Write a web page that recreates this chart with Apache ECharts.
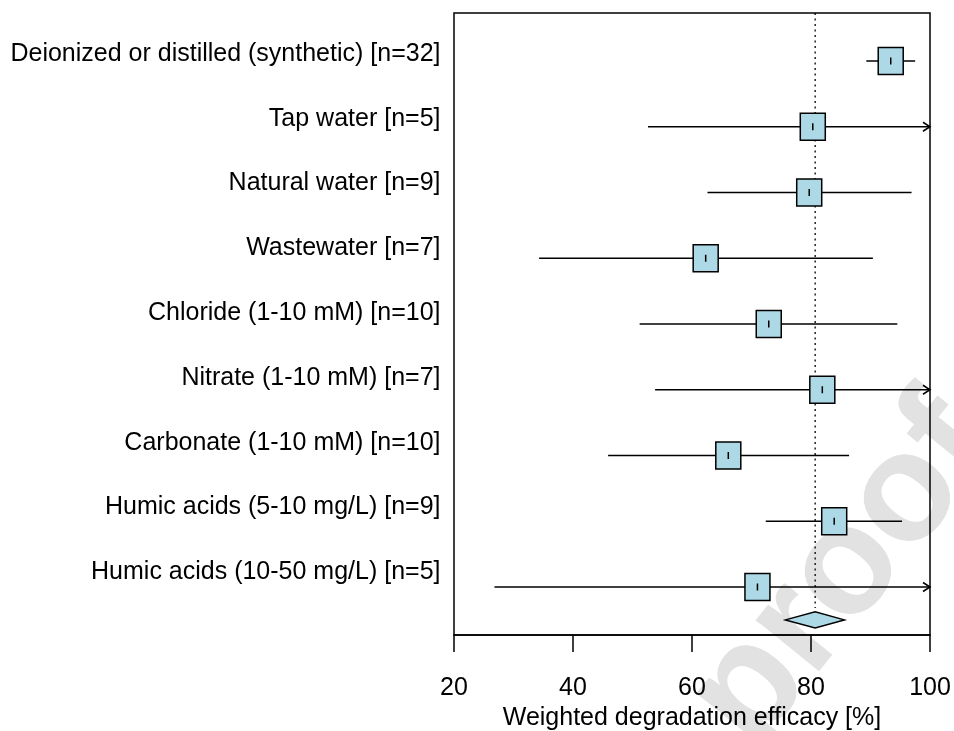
<!DOCTYPE html>
<html>
<head>
<meta charset="utf-8">
<title>Weighted degradation efficacy by water matrix</title>
<script src="https://cdn.jsdelivr.net/npm/echarts@6/dist/echarts.min.js"></script>
<style>
  html, body { margin: 0; padding: 0; background: #fff; }
  #chart { width: 954px; height: 731px; }
</style>
</head>
<body>
<div id="chart"></div>
<script>
// Water matrices, listed top to bottom
const categories = [
  'Deionized or distilled (synthetic) [n=32]',
  'Tap water [n=5]',
  'Natural water [n=9]',
  'Wastewater [n=7]',
  'Chloride (1-10 mM) [n=10]',
  'Nitrate (1-10 mM) [n=7]',
  'Carbonate (1-10 mM) [n=10]',
  'Humic acids (5-10 mg/L) [n=9]',
  'Humic acids (10-50 mg/L) [n=5]'
];
// Weighted mean efficacy (%) and its confidence bounds per matrix
const estimate = [93.4, 80.3, 79.7, 62.3, 72.9, 81.9, 66.1, 83.9, 71.0];
const lower    = [89.3, 52.6, 62.6, 34.3, 51.2, 53.8, 45.9, 72.4, 26.8];
const upper    = [97.5, 108.0, 96.9, 90.4, 94.5, 110.0, 86.4, 95.3, 115.0];
// Pooled estimate: [mean, lower, upper]
const pooled = [80.7, 75.7, 85.6];
// Axis settings
const xMin = 20, xMax = 100, xStep = 20;

const FONT = '"Liberation Sans", Arial, Helvetica, sans-serif';
const BOX_FILL = '#add8e6';

const n = categories.length;
// Row positions: first study at the top (value n), last at 1, pooled half a row lower
const rowY = categories.map((_, i) => n - i);
const pooledY = 0.5;

const studyData = categories.map((_, i) => [estimate[i], lower[i], upper[i], rowY[i]]);
const labelData = categories.map((c, i) => [xMin, rowY[i], c]);

const chart = echarts.init(document.getElementById('chart'), null, { renderer: 'canvas' });

function renderStudy(params, api) {
  const est = api.value(0), lo = api.value(1), hi = api.value(2), y = api.value(3);
  const c = api.coord([est, y]);
  const pLo = api.coord([Math.max(lo, xMin), y]);
  const pHi = api.coord([Math.min(hi, xMax), y]);
  const lineStyle = { stroke: '#000', lineWidth: 1.5 };
  const children = [
    { type: 'line', shape: { x1: pLo[0], y1: pLo[1], x2: pHi[0], y2: pHi[1] }, style: lineStyle }
  ];
  if (hi > xMax) {
    // open arrowhead where the interval runs past the axis limit
    children.push({
      type: 'polyline',
      shape: { points: [[pHi[0] - 7, pHi[1] - 4.5], [pHi[0], pHi[1]], [pHi[0] - 7, pHi[1] + 4.5]] },
      style: { stroke: '#000', lineWidth: 1.5, fill: null }
    });
  }
  const w = 25, h = 27;
  children.push({
    type: 'rect',
    shape: { x: c[0] - w / 2, y: c[1] - h / 2, width: w, height: h },
    style: { fill: BOX_FILL, stroke: '#000', lineWidth: 1.5 }
  });
  children.push({
    type: 'line',
    shape: { x1: c[0], y1: c[1] - 3.5, x2: c[0], y2: c[1] + 3.5 },
    style: { stroke: '#000', lineWidth: 1.5 }
  });
  return { type: 'group', children: children };
}

function renderPooled(params, api) {
  const est = api.value(0), lo = api.value(1), hi = api.value(2), y = api.value(3);
  const c = api.coord([est, y]);
  const pLo = api.coord([lo, y]);
  const pHi = api.coord([hi, y]);
  const top = api.coord([est, 9.73]);
  const hh = 8;
  return {
    type: 'group',
    children: [
      {
        type: 'line',
        shape: { x1: c[0], y1: top[1], x2: c[0], y2: c[1] - hh - 4 },
        style: { stroke: '#000', lineWidth: 1.3, lineDash: [2, 3.5] }
      },
      {
        type: 'polygon',
        shape: { points: [[pLo[0], c[1]], [c[0], c[1] - hh], [pHi[0], c[1]], [c[0], c[1] + hh]] },
        style: { fill: BOX_FILL, stroke: '#000', lineWidth: 1.5 }
      }
    ]
  };
}

function renderLabel(params, api) {
  const p = api.coord([api.value(0), api.value(1)]);
  return {
    type: 'text',
    x: p[0] - 13.5,
    y: p[1] + 2,
    style: {
      text: categories[params.dataIndex],
      fill: '#000',
      font: '25px ' + FONT,
      align: 'right',
      verticalAlign: 'middle'
    }
  };
}

const option = {
  animation: false,
  backgroundColor: '#fff',
  textStyle: { fontFamily: FONT },
  graphic: [
    {
      type: 'text',
      x: 720,
      y: 726,
      rotation: 51 * Math.PI / 180,
      z: -10,
      silent: true,
      style: {
        text: 'proof',
        fill: '#e2e2e2',
        font: 'bold 154px ' + FONT,
        align: 'left',
        verticalAlign: 'middle'
      }
    }
  ],
  grid: {
    left: 454, top: 13, width: 476, height: 622,
    outerBoundsMode: 'none',
    containLabel: false,
    show: true, borderColor: '#000', borderWidth: 1.5, backgroundColor: 'transparent'
  },
  xAxis: {
    type: 'value',
    min: xMin, max: xMax, interval: xStep,
    name: 'Weighted degradation efficacy [%]',
    nameLocation: 'middle',
    nameGap: 71,
    nameTextStyle: { fontSize: 25, color: '#000', fontFamily: FONT },
    axisLine: { show: true, onZero: false, lineStyle: { color: '#000', width: 1.5 } },
    axisTick: { show: true, inside: false, length: 17, lineStyle: { color: '#000', width: 1.5 } },
    axisLabel: { fontSize: 25, color: '#000', margin: 41, fontFamily: FONT },
    splitLine: { show: false }
  },
  yAxis: [
    { type: 'value', min: 0.27, max: 9.73, show: false, splitLine: { show: false } },
    { type: 'value', min: 0, max: 9.6, show: false, splitLine: { show: false } }
  ],
  series: [
    {
      type: 'custom',
      name: 'studies',
      yAxisIndex: 0,
      renderItem: renderStudy,
      data: studyData,
      z: 3
    },
    {
      type: 'custom',
      name: 'pooled',
      yAxisIndex: 0,
      renderItem: renderPooled,
      data: [[pooled[0], pooled[1], pooled[2], pooledY]],
      z: 2
    },
    {
      type: 'custom',
      name: 'labels',
      yAxisIndex: 1,
      renderItem: renderLabel,
      data: labelData,
      clip: false,
      z: 3
    }
  ]
};

chart.setOption(option);
</script>
</body>
</html>
